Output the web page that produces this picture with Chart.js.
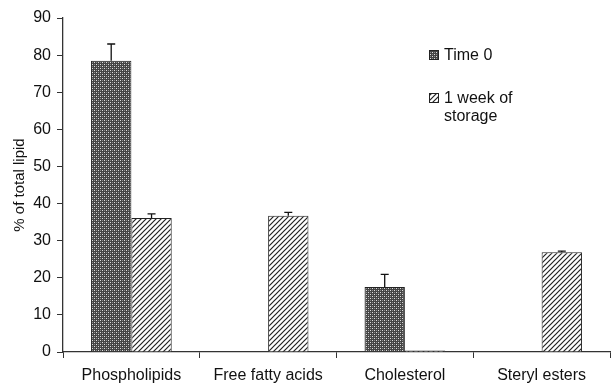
<!DOCTYPE html>
<html><head><meta charset="utf-8">
<script src="https://cdn.jsdelivr.net/npm/chart.js@4/dist/chart.umd.min.js"></script>
<style>html,body{margin:0;padding:0;background:#fff}#wrap{width:615px;height:387px;position:relative}</style>
</head><body><div id="wrap"><canvas id="c" width="615" height="387"></canvas></div>
<script>
const categories = ["Phospholipids", "Free fatty acids", "Cholesterol", "Steryl esters"];
const time0 = [78.5, 0, 17.5, 0.2];
const time0Err = [4.5, 0, 3.4, 0];
const week1 = [36.1, 36.7, 0.4, 26.9];
const week1Err = [1.1, 0.9, 0, 0.3];
const seriesNames = ["Time 0", ["1 week of", "storage"]];
const yTicks = [0, 10, 20, 30, 40, 50, 60, 70, 80, 90];

const FONT = '"Liberation Sans", Arial, sans-serif';

function dotPattern() {
  const c = document.createElement('canvas'); c.width = 4; c.height = 4;
  const x = c.getContext('2d');
  x.fillStyle = '#444'; x.fillRect(0, 0, 4, 4);
  x.fillStyle = '#dddddd'; x.fillRect(0, 0, 1, 1); x.fillRect(2, 2, 1, 1);
  x.fillStyle = '#8a8a8a'; x.fillRect(2, 0, 1, 1); x.fillRect(0, 2, 1, 1);
  return x.createPattern(c, 'repeat');
}
function hatchPattern() {
  const c = document.createElement('canvas'); c.width = 5; c.height = 5;
  const x = c.getContext('2d');
  x.fillStyle = '#fff'; x.fillRect(0, 0, 5, 5);
  x.strokeStyle = '#222'; x.lineWidth = 1.2;
  x.beginPath();
  x.moveTo(-1, 6); x.lineTo(6, -1);
  x.moveTo(-1, 1); x.lineTo(1, -1);
  x.moveTo(4, 6); x.lineTo(6, 4);
  x.stroke();
  return x.createPattern(c, 'repeat');
}
const pDot = dotPattern(), pHatch = hatchPattern();

const errPlugin = {
  id: 'err',
  afterDatasetsDraw(chart) {
    const ctx = chart.ctx, y = chart.scales.y;
    const errs = [time0Err, week1Err];
    ctx.save(); ctx.strokeStyle = '#111'; ctx.lineWidth = 1.3;
    chart.data.datasets.forEach((ds, i) => {
      chart.getDatasetMeta(i).data.forEach((bar, j) => {
        const e = errs[i][j]; if (!e) return;
        const top = y.getPixelForValue(ds.data[j] + e);
        ctx.beginPath();
        ctx.moveTo(bar.x, bar.y); ctx.lineTo(bar.x, top);
        ctx.moveTo(bar.x - 4, top); ctx.lineTo(bar.x + 4, top);
        ctx.stroke();
      });
    });
    ctx.restore();
  }
};
const legendPlugin = {
  id: 'lg',
  afterDraw(chart) {
    const ctx = chart.ctx; ctx.save();
    ctx.font = '16px ' + FONT;
    ctx.textBaseline = 'middle';
    const items = [{p: pDot, y: 55}, {p: pHatch, y: 98}];
    items.forEach((it, i) => {
      ctx.fillStyle = it.p; ctx.fillRect(429, it.y - 5, 10, 10);
      ctx.strokeStyle = '#222'; ctx.lineWidth = 1; ctx.strokeRect(429.5, it.y - 4.5, 9, 9);
      ctx.fillStyle = '#111';
      const name = seriesNames[i];
      const lines = Array.isArray(name) ? name : [name];
      lines.forEach((t, k) => ctx.fillText(t, 444, it.y + 1 + k * 18));
    });
    ctx.restore();
  }
};

new Chart(document.getElementById('c'), {
  type: 'bar',
  data: {
    labels: categories,
    datasets: [
      {label: 'Time 0', data: time0, backgroundColor: pDot, borderColor: '#222', borderWidth: 1, categoryPercentage: 0.59, barPercentage: 1},
      {label: '1 week of storage', data: week1, backgroundColor: pHatch, borderColor: '#222', borderWidth: 1, categoryPercentage: 0.59, barPercentage: 1}
    ]
  },
  options: {
    responsive: false, animation: false,
    layout: {padding: {top: 18, right: 5, left: 11, bottom: 0}},
    plugins: {legend: {display: false}, tooltip: {enabled: false}},
    scales: {
      x: {
        grid: {display: true, drawOnChartArea: false, offset: true, tickLength: 6, color: '#333'},
        border: {color: '#333', width: 1.3},
        ticks: {color: '#111', font: {size: 16, family: FONT}, padding: 8, maxRotation: 0, autoSkip: false},
        afterFit(s) { s.height = 35; }
      },
      y: {
        min: 0, max: 90,
        afterBuildTicks(s) { s.ticks = yTicks.map(v => ({value: v})); },
        grid: {display: true, drawOnChartArea: false, tickLength: 6, color: '#333'},
        border: {color: '#333', width: 1.3},
        ticks: {color: '#111', font: {size: 16, family: FONT}, padding: 6},
        title: {display: true, text: '% of total lipid', color: '#111', font: {size: 15, family: FONT}, padding: {top: 0, bottom: 0}},
        afterFit(s) { s.width = 52; }
      }
    }
  },
  plugins: [errPlugin, legendPlugin]
});
</script></body></html>
